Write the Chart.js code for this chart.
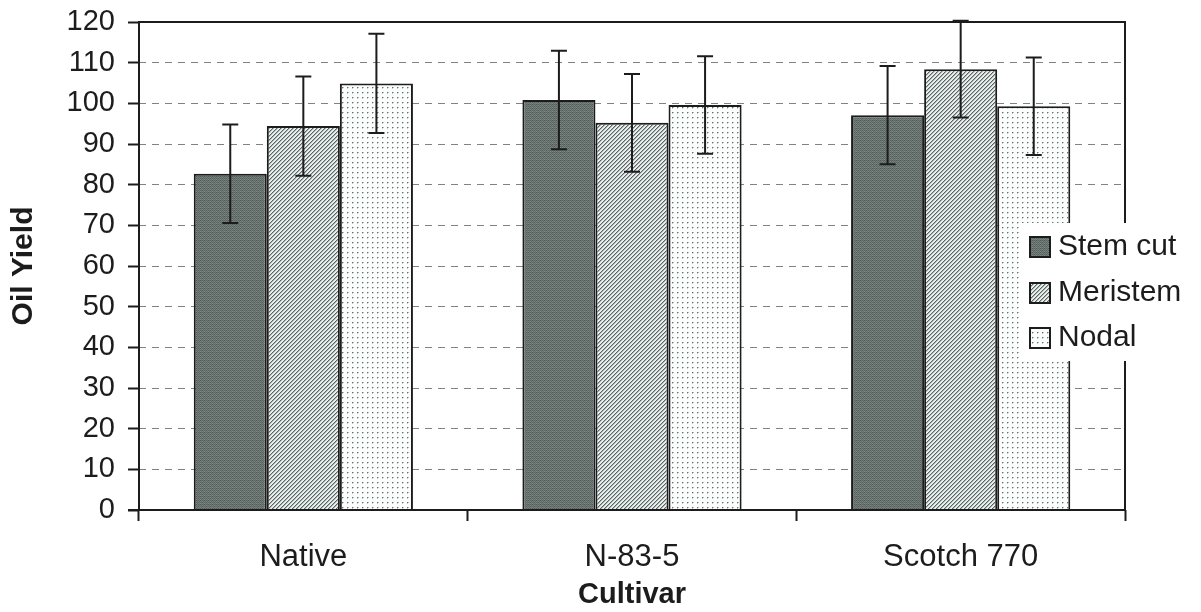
<!DOCTYPE html>
<html>
<head>
<meta charset="utf-8">
<title>Oil Yield by Cultivar</title>
<script src="https://cdn.jsdelivr.net/npm/chart.js@4.4.0/dist/chart.umd.min.js"></script>
<style>
  html, body { margin: 0; padding: 0; background: #ffffff; }
  #wrap { width: 1201px; height: 612px; position: relative; }
</style>
</head>
<body>
<div id="wrap"><canvas id="c" width="1201" height="612"></canvas></div>
<script>
// ---- data ----
const cultivars = ['Native', 'N-83-5', 'Scotch 770'];
const seriesNames = ['Stem cut', 'Meristem', 'Nodal'];
const stemCut = [82.7, 100.8, 97.1];
const meristem = [94.4, 95.2, 108.4];
const nodal = [104.9, 99.6, 99.3];
const stemCutErr = [12.1, 12.1, 12.1];
const meristemErr = [12.2, 12.0, 11.9];
const nodalErr = [12.2, 12.0, 12.0];
const yTicks = [0, 10, 20, 30, 40, 50, 60, 70, 80, 90, 100, 110, 120];
const yTitle = 'Oil Yield';
const xTitle = 'Cultivar';

const FONT = "'Liberation Sans', Arial, sans-serif";
const INK = '#1c1c1c';

const canvas = document.getElementById('c');
const ctx = canvas.getContext('2d');

// ---- fill patterns ----
function tile(w, h, paint) {
  const c = document.createElement('canvas');
  c.width = w; c.height = h;
  const t = c.getContext('2d');
  paint(t, w, h);
  return ctx.createPattern(c, 'repeat');
}
function px(t, x, y, col) { t.fillStyle = col; t.fillRect(x, y, 1, 1); }

// dark speckled grey
const bayer = [
  [0, 32, 8, 40, 2, 34, 10, 42],
  [48, 16, 56, 24, 50, 18, 58, 26],
  [12, 44, 4, 36, 14, 46, 6, 38],
  [60, 28, 52, 20, 62, 30, 54, 22],
  [3, 35, 11, 43, 1, 33, 9, 41],
  [51, 19, 59, 27, 49, 17, 57, 25],
  [15, 47, 7, 39, 13, 45, 5, 37],
  [63, 31, 55, 23, 61, 29, 53, 21]
];
const stemFill = tile(8, 8, (t, w, h) => {
  for (let y = 0; y < h; y++) for (let x = 0; x < w; x++) {
    const d = Math.round((bayer[y][(x * 3) % 8] - 32) * 0.8);
    px(t, x, y, `rgb(${104 + d},${114 + d},${111 + d})`);
  }
});

// diagonal hatch rising to the right
const meristemFill = tile(4, 4, (t, w, h) => {
  for (let y = 0; y < h; y++) for (let x = 0; x < w; x++) {
    const k = (x + y) % 4;
    const col = k === 0 ? '#5a6462' : k === 1 ? '#a9b2b0' : '#eaefee';
    px(t, x, y, col);
  }
});

// light dotted
const nodalFill = tile(5, 5, (t, w, h) => {
  t.fillStyle = '#fbfdfd';
  t.fillRect(0, 0, w, h);
  px(t, 2, 2, '#66706e');
  px(t, 3, 2, '#b7bfbd');
  px(t, 2, 3, '#c2cac8');
});

const fills = [stemFill, meristemFill, nodalFill];

// ---- plugins ----
const errorBars = {
  id: 'errorBars',
  afterDatasetsDraw(chart) {
    const c = chart.ctx;
    const y = chart.scales.y;
    c.save();
    c.strokeStyle = INK;
    c.lineWidth = 2;
    chart.data.datasets.forEach((ds, i) => {
      const meta = chart.getDatasetMeta(i);
      meta.data.forEach((bar, j) => {
        const v = ds.data[j], e = ds.errors[j];
        const yHi = y.getPixelForValue(v + e);
        const yLo = y.getPixelForValue(v - e);
        const x = bar.x;
        c.beginPath();
        c.moveTo(x, yHi); c.lineTo(x, yLo);
        c.moveTo(x - 8, yHi); c.lineTo(x + 8, yHi);
        c.moveTo(x - 8, yLo); c.lineTo(x + 8, yLo);
        c.stroke();
      });
    });
    c.restore();
  }
};

const plotFrame = {
  id: 'plotFrame',
  afterDatasetsDraw(chart) {
    const {left, right, top, bottom} = chart.chartArea;
    const c = chart.ctx;
    c.save();
    c.strokeStyle = INK;
    c.lineWidth = 2;
    c.beginPath();
    c.moveTo(left, bottom); c.lineTo(left, top); c.lineTo(right, top); c.lineTo(right, bottom);
    c.moveTo(left - 11, bottom); c.lineTo(right, bottom);
    c.stroke();
    c.restore();
  }
};

const sideLegend = {
  id: 'sideLegend',
  afterDraw(chart) {
    const c = chart.ctx;
    c.save();
    c.fillStyle = '#ffffff';
    c.fillRect(1019, 223, 182, 138);
    const rows = [247, 293, 338];
    chart.data.datasets.forEach((ds, i) => {
      const cy = rows[i];
      c.fillStyle = ds.backgroundColor;
      c.fillRect(1030, cy - 10, 20, 20);
      c.strokeStyle = INK;
      c.lineWidth = 2;
      c.strokeRect(1030, cy - 10, 20, 20);
      c.fillStyle = INK;
      c.font = `30px ${FONT}`;
      c.textBaseline = 'middle';
      c.textAlign = 'left';
      c.fillText(ds.label, 1058, cy);
    });
    c.restore();
  }
};

// ---- chart ----
new Chart(ctx, {
  type: 'bar',
  data: {
    labels: cultivars,
    datasets: [
      { label: seriesNames[0], data: stemCut, errors: stemCutErr, backgroundColor: fills[0] },
      { label: seriesNames[1], data: meristem, errors: meristemErr, backgroundColor: fills[1] },
      { label: seriesNames[2], data: nodal, errors: nodalErr, backgroundColor: fills[2] }
    ]
  },
  options: {
    responsive: false,
    animation: false,
    devicePixelRatio: 1,
    layout: { padding: { top: 22, right: 76, left: 0, bottom: 0 } },
    datasets: {
      bar: {
        borderColor: INK,
        borderWidth: 2,
        borderSkipped: 'start',
        barPercentage: 1.0,
        categoryPercentage: 0.667
      }
    },
    plugins: {
      legend: { display: false },
      tooltip: { enabled: false }
    },
    scales: {
      x: {
        offset: true,
        grid: {
          offset: true,
          drawOnChartArea: false,
          drawTicks: true,
          tickLength: 11,
          tickColor: INK,
          tickWidth: 2
        },
        border: { display: false },
        ticks: {
          color: INK,
          padding: 18,
          font: { family: FONT, size: 31 }
        },
        title: {
          display: true,
          text: xTitle,
          color: INK,
          padding: { top: 0, bottom: 0 },
          font: { family: FONT, size: 29, weight: 'bold' }
        },
        afterFit(scale) { scale.height = 102; }
      },
      y: {
        min: 0,
        max: 120,
        afterBuildTicks(scale) { scale.ticks = yTicks.map(v => ({ value: v })); },
        grid: {
          color: (c) => (c.tick && (c.tick.value === 0 || c.tick.value === 120)) ? 'rgba(0,0,0,0)' : '#7d8483',
          lineWidth: 1,
          tickLength: 11,
          tickColor: INK,
          tickWidth: 2,
          tickBorderDash: []
        },
        border: { display: false, dash: [7, 6] },
        ticks: {
          color: INK,
          padding: 13,
          font: { family: FONT, size: 29 }
        },
        title: {
          display: true,
          text: yTitle,
          color: INK,
          padding: { top: 6, bottom: 0 },
          font: { family: FONT, size: 30, weight: 'bold' }
        },
        afterFit(scale) {
          scale.width = 139;
          scale.paddingTop = 0;
          scale.paddingBottom = 0;
        }
      }
    }
  },
  plugins: [errorBars, plotFrame, sideLegend]
});
</script>
</body>
</html>
